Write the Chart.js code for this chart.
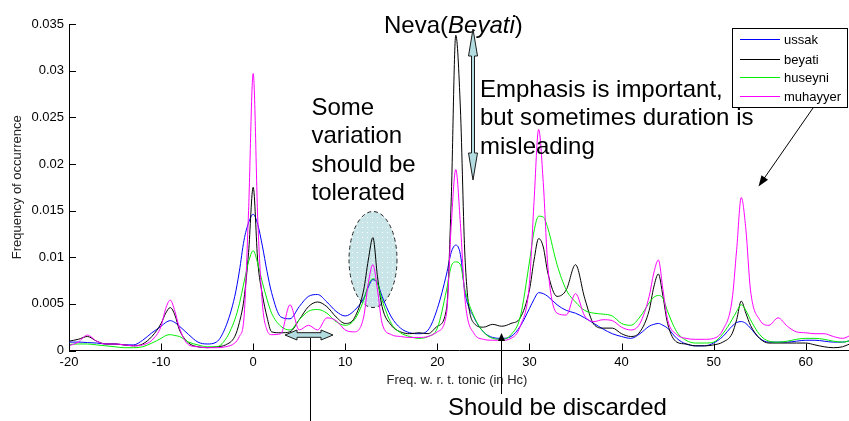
<!DOCTYPE html>
<html lang="en">
<head>
  <meta charset="UTF-8">
  <title>Makam pitch histograms</title>
  <script src="https://cdn.jsdelivr.net/npm/chart.js"></script>
  <style>
    html, body { margin: 0; padding: 0; background: #fff; overflow: hidden; }
    canvas { display: block; }
  </style>
</head>
<body>
  <canvas id="histChart" width="849" height="421"></canvas>

  <script>
    // frequency w.r.t. tonic (Hc), shared by all four curves
    const freqs = [
      -20, -19, -18, -17, -16, -15, -14, -13, -12, -11,
      -10, -9.5, -9, -8.5, -8, -7, -6, -5, -4, -3,
      -2, -1.5, -1, -0.5, 0, 0.5, 1, 1.5, 2, 3,
      4, 5, 6, 7, 8, 9, 10, 11, 12, 12.5,
      13, 13.5, 14, 15, 16, 17, 18, 19, 20, 21,
      21.5, 22, 22.5, 23, 24, 25, 26, 27, 28, 29,
      30, 30.5, 31, 31.5, 32, 33, 34, 35, 36, 37,
      38, 39, 40, 41, 42, 43, 43.5, 44, 44.5, 45,
      46, 47, 48, 49, 50, 51, 52, 52.5, 53, 53.5,
      54, 55, 56, 57, 58, 59, 60, 61, 62, 63,
      64, 65
    ];

    const ussak = [
      0.0009, 0.0009, 0.00085, 0.0008, 0.0007, 0.0007, 0.0006, 0.0006, 0.0011, 0.0019,
      0.0026, 0.003, 0.0032, 0.003, 0.0026, 0.0017, 0.0009, 0.0007, 0.0009, 0.0025,
      0.0058, 0.0085, 0.0118, 0.0137, 0.0146, 0.0135, 0.0112, 0.0085, 0.0062, 0.0036,
      0.0034, 0.0047, 0.0058, 0.006, 0.0052, 0.0042, 0.0037, 0.0043, 0.0056, 0.0068,
      0.0076, 0.0072, 0.0058, 0.0036, 0.0024, 0.0019, 0.0018, 0.0022, 0.0045, 0.0082,
      0.0105, 0.0113, 0.0103, 0.0062, 0.0035, 0.002, 0.0014, 0.0013, 0.0015, 0.0026,
      0.0045, 0.0055, 0.0062, 0.0061, 0.0058, 0.0049, 0.0043, 0.004, 0.0035, 0.0029,
      0.0023, 0.0018, 0.0015, 0.0013, 0.0018, 0.0026, 0.0028, 0.0029, 0.0027, 0.0024,
      0.0013, 0.0007, 0.0005, 0.0005, 0.0008, 0.0015, 0.0026, 0.003, 0.0031, 0.0029,
      0.0024, 0.0013, 0.0009, 0.0009, 0.0009, 0.001, 0.0011, 0.0011, 0.001, 0.0009,
      0.0009, 0.0011
    ];

    const beyati = [
      0.001, 0.0012, 0.0015, 0.001, 0.0007, 0.0007, 0.0006, 0.0005, 0.0007, 0.0015,
      0.0029, 0.004, 0.0046, 0.0038, 0.0022, 0.0008, 0.0004, 0.0003, 0.0004, 0.0006,
      0.0015, 0.003, 0.0055, 0.0105, 0.0175, 0.0095, 0.006, 0.0036, 0.002, 0.0019,
      0.002, 0.0033, 0.0047, 0.0052, 0.0047, 0.0036, 0.0029, 0.0035, 0.0065, 0.0097,
      0.0121, 0.0079, 0.0047, 0.0027, 0.002, 0.0018, 0.0019, 0.0018, 0.0026, 0.0045,
      0.016, 0.0338, 0.026, 0.01, 0.0029, 0.0025, 0.0028, 0.0026, 0.0029, 0.0035,
      0.0065, 0.0097, 0.012, 0.0111, 0.0083, 0.0058, 0.0065, 0.0092, 0.0056, 0.0028,
      0.0024, 0.0024, 0.0018, 0.0015, 0.002, 0.0043, 0.0068, 0.0082, 0.0058, 0.0029,
      0.0009, 0.0007, 0.0005, 0.0005, 0.0006, 0.0009, 0.0018, 0.0033, 0.0053, 0.004,
      0.0027, 0.0013, 0.0008, 0.0008, 0.0008, 0.0008, 0.0008, 0.0006, 0.0004, 0.0003,
      0.0004, 0.0008
    ];

    const huseyni = [
      0.00065, 0.0007, 0.0007, 0.0006, 0.0005, 0.0004, 0.0003, 0.0003, 0.0004, 0.0008,
      0.0013, 0.0016, 0.0017, 0.0016, 0.0015, 0.0009, 0.0006, 0.0004, 0.0004, 0.0012,
      0.0033, 0.005, 0.0073, 0.0095, 0.0107, 0.0093, 0.0073, 0.0055, 0.004, 0.0026,
      0.0022, 0.0033, 0.0042, 0.0044, 0.004, 0.0031, 0.0027, 0.0033, 0.0054, 0.007,
      0.0077, 0.0072, 0.0054, 0.0029, 0.0019, 0.0015, 0.0013, 0.0015, 0.0024, 0.0065,
      0.009, 0.0095, 0.0092, 0.0065, 0.0036, 0.002, 0.0013, 0.0012, 0.0017, 0.0036,
      0.0095, 0.0128, 0.0144, 0.0143, 0.0131, 0.0092, 0.0065, 0.0052, 0.0043, 0.004,
      0.0039, 0.0037, 0.0029, 0.0027, 0.0036, 0.0051, 0.0057, 0.0059, 0.0056, 0.0042,
      0.002, 0.0011, 0.0008, 0.0008, 0.0009, 0.0018, 0.0033, 0.0042, 0.0049, 0.0043,
      0.0033, 0.0017, 0.001, 0.0009, 0.001, 0.0012, 0.0013, 0.0013, 0.0012, 0.001,
      0.0009, 0.0011
    ];

    const muhayyer = [
      0.0005, 0.0009, 0.00165, 0.001, 0.0007, 0.0007, 0.0006, 0.0005, 0.0006, 0.0011,
      0.0026, 0.0045, 0.0054, 0.0042, 0.0024, 0.0006, 0.0004, 0.0003, 0.0003, 0.0004,
      0.0008, 0.0015, 0.0035, 0.015, 0.0297, 0.014, 0.005, 0.0022, 0.0017, 0.0018,
      0.0049, 0.0022, 0.0027, 0.0022, 0.0035, 0.0032, 0.0022, 0.002, 0.0036, 0.0072,
      0.0092, 0.0065, 0.0029, 0.0017, 0.0015, 0.0014, 0.0014, 0.0015, 0.002, 0.004,
      0.0133, 0.0194, 0.0136, 0.0055, 0.0018, 0.0012, 0.0011, 0.0011, 0.0013, 0.0026,
      0.0072, 0.016, 0.0237, 0.018, 0.009, 0.004, 0.0038, 0.0061, 0.0037, 0.0031,
      0.0033, 0.0032, 0.0025, 0.0022, 0.0029, 0.0058, 0.0083, 0.0097, 0.0065, 0.0033,
      0.0017, 0.0013, 0.0012, 0.0012, 0.0013, 0.0022, 0.0054, 0.0108, 0.0164, 0.013,
      0.0065, 0.0033, 0.0027, 0.0035, 0.0026, 0.002, 0.0019, 0.0018, 0.0018, 0.0015,
      0.0013, 0.0017
    ];

    const seriesNames = ['ussak', 'beyati', 'huseyni', 'muhayyer'];
    const xTicks = [-20, -10, 0, 10, 20, 30, 40, 50, 60];
    const yTicks = [0, 0.005, 0.01, 0.015, 0.02, 0.025, 0.03, 0.035];

    const FONT = "'Liberation Sans', Arial, sans-serif";

    function toPoints(ys) {
      return freqs.map((x, i) => ({ x: x, y: ys[i] }));
    }

    // light blue dotted fill for the ellipse
    function dotPattern(ctx) {
      const c = document.createElement('canvas');
      c.width = 5; c.height = 5;
      const g = c.getContext('2d');
      g.fillStyle = '#c9e5e8';
      g.fillRect(0, 0, 5, 5);
      g.fillStyle = '#ffffff';
      g.fillRect(2, 2, 1, 1);
      return ctx.createPattern(c, 'repeat');
    }

    function doubleArrow(ctx, x1, y1, x2, y2, shaft, headLen, headHalf) {
      const dx = x2 - x1, dy = y2 - y1, len = Math.hypot(dx, dy);
      const ux = dx / len, uy = dy / len, nx = -uy, ny = ux;
      const p = (a, b) => [x1 + ux * a + nx * b, y1 + uy * a + ny * b];
      const pts = [
        p(0, 0), p(headLen, headHalf), p(headLen, shaft), p(len - headLen, shaft),
        p(len - headLen, headHalf), p(len, 0), p(len - headLen, -headHalf),
        p(len - headLen, -shaft), p(headLen, -shaft), p(headLen, -headHalf)
      ];
      ctx.beginPath();
      pts.forEach(([x, y], i) => i ? ctx.lineTo(x, y) : ctx.moveTo(x, y));
      ctx.closePath();
      ctx.fillStyle = '#b2dce0';
      ctx.fill();
      ctx.strokeStyle = '#1a1a1a';
      ctx.lineWidth = 1;
      ctx.stroke();
    }

    function lineArrow(ctx, x1, y1, x2, y2, headLen, headHalf) {
      const dx = x2 - x1, dy = y2 - y1, len = Math.hypot(dx, dy);
      const ux = dx / len, uy = dy / len, nx = -uy, ny = ux;
      ctx.strokeStyle = '#000';
      ctx.lineWidth = 1;
      ctx.beginPath();
      ctx.moveTo(x1, y1);
      ctx.lineTo(x2 - ux * headLen * 0.5, y2 - uy * headLen * 0.5);
      ctx.stroke();
      ctx.beginPath();
      ctx.moveTo(x2, y2);
      ctx.lineTo(x2 - ux * headLen + nx * headHalf, y2 - uy * headLen + ny * headHalf);
      ctx.lineTo(x2 - ux * headLen - nx * headHalf, y2 - uy * headLen - ny * headHalf);
      ctx.closePath();
      ctx.fillStyle = '#000';
      ctx.fill();
    }

    const overlay = {
      id: 'overlay',
      beforeDatasetsDraw(chart) {
        const ctx = chart.ctx;
        ctx.save();
        ctx.beginPath();
        ctx.ellipse(373, 259.5, 24, 48, 0, 0, Math.PI * 2);
        ctx.fillStyle = dotPattern(ctx);
        ctx.fill();
        ctx.setLineDash([4, 3]);
        ctx.strokeStyle = '#222';
        ctx.lineWidth = 1;
        ctx.stroke();
        ctx.restore();
      },
      afterDraw(chart) {
        const ctx = chart.ctx;
        const { left, right, top, bottom } = chart.chartArea;
        const xs = chart.scales.x, ys = chart.scales.y;
        ctx.save();

        // inward tick marks
        ctx.strokeStyle = '#000';
        ctx.lineWidth = 1;
        ctx.beginPath();
        xTicks.forEach(v => {
          const px = Math.round(xs.getPixelForValue(v)) + 0.5;
          ctx.moveTo(px, bottom);
          ctx.lineTo(px, bottom - 7);
        });
        yTicks.forEach(v => {
          const py = Math.round(ys.getPixelForValue(v)) + 0.5;
          ctx.moveTo(left, py);
          ctx.lineTo(left + 7, py);
        });
        ctx.stroke();

        // axis titles
        ctx.fillStyle = '#222';
        ctx.font = '13px ' + FONT;
        ctx.textAlign = 'center';
        ctx.textBaseline = 'middle';
        ctx.fillText('Freq. w. r. t. tonic (in Hc)', (left + right) / 2 - 2, 380);
        ctx.save();
        ctx.translate(17, (top + bottom) / 2);
        ctx.rotate(-Math.PI / 2);
        ctx.fillText('Frequency of occurrence', 0, 0);
        ctx.restore();

        // annotation texts
        ctx.fillStyle = '#000';
        ctx.textAlign = 'left';
        ctx.textBaseline = 'alphabetic';
        ctx.font = '24px ' + FONT;
        let tx = 384;
        ctx.fillText('Neva(', tx, 33);
        tx += ctx.measureText('Neva(').width;
        ctx.font = 'italic 24px ' + FONT;
        ctx.fillText('Beyati', tx, 33);
        tx += ctx.measureText('Beyati').width;
        ctx.font = '24px ' + FONT;
        ctx.fillText(')', tx, 33);

        ['Emphasis is important,', 'but sometimes duration is', 'misleading']
          .forEach((s, i) => ctx.fillText(s, 480, 96.5 + i * 28.5));
        ['Some', 'variation', 'should be', 'tolerated']
          .forEach((s, i) => ctx.fillText(s, 311.5, 114.5 + i * 28.5));
        ctx.fillText('Should be discarded', 448, 415);

        // arrows
        doubleArrow(ctx, 473, 29, 473, 180, 1.5, 27, 4.5);
        doubleArrow(ctx, 285, 335, 333, 335, 2.3, 12, 5);
        ctx.strokeStyle = '#000';
        ctx.lineWidth = 1;
        ctx.beginPath();
        ctx.moveTo(310.5, 338);
        ctx.lineTo(310.5, 421);
        ctx.stroke();
        lineArrow(ctx, 501.5, 394, 501.5, 333, 8, 3.5);
        lineArrow(ctx, 813, 108, 758.5, 186.5, 11, 4);

        // legend box
        ctx.fillStyle = '#fff';
        ctx.fillRect(732.5, 28.5, 115, 79);
        ctx.strokeStyle = '#000';
        ctx.lineWidth = 1;
        ctx.strokeRect(732.5, 28.5, 115, 79);
        ctx.font = '13px ' + FONT;
        ctx.textBaseline = 'middle';
        const rows = [39.5, 59.5, 77.5, 96.5];
        chart.data.datasets.forEach((ds, i) => {
          ctx.strokeStyle = ds.borderColor;
          ctx.lineWidth = 1.2;
          ctx.beginPath();
          ctx.moveTo(740, rows[i]);
          ctx.lineTo(780, rows[i]);
          ctx.stroke();
          ctx.fillStyle = '#000';
          ctx.fillText(ds.label, 784, rows[i] + 1);
        });
        ctx.restore();
      }
    };

    const colors = ['#0000ff', '#000000', '#00ee00', '#ff00ff'];
    const values = [ussak, beyati, huseyni, muhayyer];

    const ctx = document.getElementById('histChart').getContext('2d');
    new Chart(ctx, {
      type: 'line',
      data: {
        datasets: seriesNames.map((name, i) => ({
          label: name,
          data: toPoints(values[i]),
          borderColor: colors[i],
          borderWidth: 1,
          pointRadius: 0,
          fill: false,
          cubicInterpolationMode: 'monotone',
          order: 3 - i
        }))
      },
      options: {
        responsive: false,
        animation: false,
        events: [],
        layout: { padding: { top: 24, left: 0, right: 0, bottom: 0 } },
        plugins: {
          legend: { display: false },
          tooltip: { enabled: false }
        },
        scales: {
          x: {
            type: 'linear',
            min: -20,
            max: 64.7,
            afterBuildTicks: s => { s.ticks = xTicks.map(v => ({ value: v })); },
            afterFit: s => { s.height = 70.5; },
            grid: { display: false, drawTicks: false },
            border: { display: true, color: '#000', width: 1 },
            ticks: {
              padding: 4,
              color: '#000',
              maxRotation: 0,
              autoSkip: false,
              font: { family: FONT, size: 13 }
            }
          },
          y: {
            min: 0,
            max: 0.035,
            afterBuildTicks: s => { s.ticks = yTicks.map(v => ({ value: v })); },
            afterFit: s => { s.width = 69; },
            grid: { display: false, drawTicks: false },
            border: { display: true, color: '#000', width: 1 },
            ticks: {
              padding: 5,
              color: '#000',
              font: { family: FONT, size: 13 },
              callback: v => String(+v.toFixed(3))
            }
          }
        }
      },
      plugins: [overlay]
    });
  </script>
</body>
</html>
